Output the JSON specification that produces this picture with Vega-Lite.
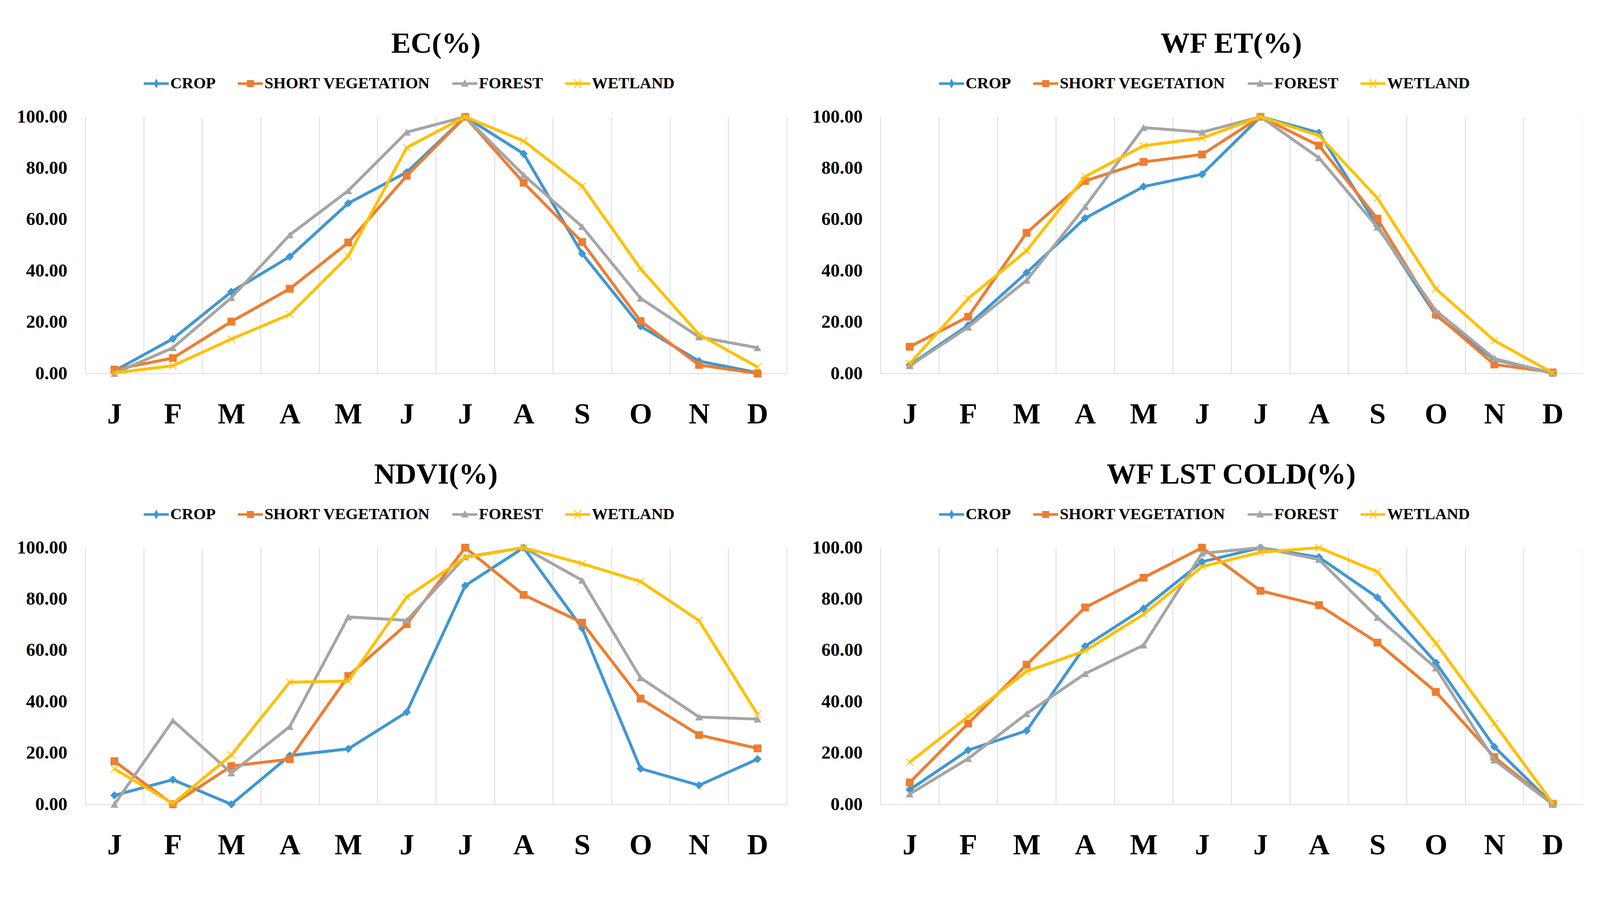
{
"$schema": "https://vega.github.io/schema/vega-lite/v6.json",
"padding": {"left": 42, "top": 75, "right": 0, "bottom": 0},
"background": "white",
"datasets": {
"ec": [
{"m":"Jan","s":"CROP","v":1},{"m":"Feb","s":"CROP","v":13.5},{"m":"Mar","s":"CROP","v":31.8},{"m":"Apr","s":"CROP","v":45.5},{"m":"May","s":"CROP","v":66.3},{"m":"Jun","s":"CROP","v":78.4},{"m":"Jul","s":"CROP","v":100},{"m":"Aug","s":"CROP","v":85.6},{"m":"Sep","s":"CROP","v":46.7},{"m":"Oct","s":"CROP","v":18.4},{"m":"Nov","s":"CROP","v":4.8},{"m":"Dec","s":"CROP","v":0.3},
{"m":"Jan","s":"SHORT VEGETATION","v":1.5},{"m":"Feb","s":"SHORT VEGETATION","v":6},{"m":"Mar","s":"SHORT VEGETATION","v":20.2},{"m":"Apr","s":"SHORT VEGETATION","v":33},{"m":"May","s":"SHORT VEGETATION","v":51},{"m":"Jun","s":"SHORT VEGETATION","v":77},{"m":"Jul","s":"SHORT VEGETATION","v":100},{"m":"Aug","s":"SHORT VEGETATION","v":74.3},{"m":"Sep","s":"SHORT VEGETATION","v":51.2},{"m":"Oct","s":"SHORT VEGETATION","v":20.4},{"m":"Nov","s":"SHORT VEGETATION","v":3.3},{"m":"Dec","s":"SHORT VEGETATION","v":0},
{"m":"Jan","s":"FOREST","v":0},{"m":"Feb","s":"FOREST","v":10},{"m":"Mar","s":"FOREST","v":29.5},{"m":"Apr","s":"FOREST","v":54},{"m":"May","s":"FOREST","v":71.2},{"m":"Jun","s":"FOREST","v":94},{"m":"Jul","s":"FOREST","v":100},{"m":"Aug","s":"FOREST","v":77.3},{"m":"Sep","s":"FOREST","v":57.2},{"m":"Oct","s":"FOREST","v":29.3},{"m":"Nov","s":"FOREST","v":14.2},{"m":"Dec","s":"FOREST","v":10},
{"m":"Jan","s":"WETLAND","v":0.2},{"m":"Feb","s":"WETLAND","v":3},{"m":"Mar","s":"WETLAND","v":13.4},{"m":"Apr","s":"WETLAND","v":23},{"m":"May","s":"WETLAND","v":45.7},{"m":"Jun","s":"WETLAND","v":88},{"m":"Jul","s":"WETLAND","v":100},{"m":"Aug","s":"WETLAND","v":90.6},{"m":"Sep","s":"WETLAND","v":73},{"m":"Oct","s":"WETLAND","v":40.8},{"m":"Nov","s":"WETLAND","v":15.2},{"m":"Dec","s":"WETLAND","v":2.5}
],
"et": [
{"m":"Jan","s":"CROP","v":3.3},{"m":"Feb","s":"CROP","v":18.8},{"m":"Mar","s":"CROP","v":39.3},{"m":"Apr","s":"CROP","v":60.5},{"m":"May","s":"CROP","v":72.8},{"m":"Jun","s":"CROP","v":77.6},{"m":"Jul","s":"CROP","v":100},{"m":"Aug","s":"CROP","v":93.8},{"m":"Sep","s":"CROP","v":57.5},{"m":"Oct","s":"CROP","v":22.6},{"m":"Nov","s":"CROP","v":5.4},{"m":"Dec","s":"CROP","v":0.2},
{"m":"Jan","s":"SHORT VEGETATION","v":10.4},{"m":"Feb","s":"SHORT VEGETATION","v":22.1},{"m":"Mar","s":"SHORT VEGETATION","v":54.8},{"m":"Apr","s":"SHORT VEGETATION","v":75},{"m":"May","s":"SHORT VEGETATION","v":82.4},{"m":"Jun","s":"SHORT VEGETATION","v":85.3},{"m":"Jul","s":"SHORT VEGETATION","v":100},{"m":"Aug","s":"SHORT VEGETATION","v":88.8},{"m":"Sep","s":"SHORT VEGETATION","v":60.3},{"m":"Oct","s":"SHORT VEGETATION","v":23},{"m":"Nov","s":"SHORT VEGETATION","v":3.5},{"m":"Dec","s":"SHORT VEGETATION","v":0.4},
{"m":"Jan","s":"FOREST","v":3},{"m":"Feb","s":"FOREST","v":18},{"m":"Mar","s":"FOREST","v":36.3},{"m":"Apr","s":"FOREST","v":65},{"m":"May","s":"FOREST","v":95.8},{"m":"Jun","s":"FOREST","v":94},{"m":"Jul","s":"FOREST","v":100},{"m":"Aug","s":"FOREST","v":84},{"m":"Sep","s":"FOREST","v":57},{"m":"Oct","s":"FOREST","v":24.5},{"m":"Nov","s":"FOREST","v":5.8},{"m":"Dec","s":"FOREST","v":0},
{"m":"Jan","s":"WETLAND","v":3.8},{"m":"Feb","s":"WETLAND","v":29.2},{"m":"Mar","s":"WETLAND","v":47.8},{"m":"Apr","s":"WETLAND","v":76.7},{"m":"May","s":"WETLAND","v":88.7},{"m":"Jun","s":"WETLAND","v":91.7},{"m":"Jul","s":"WETLAND","v":100},{"m":"Aug","s":"WETLAND","v":92.7},{"m":"Sep","s":"WETLAND","v":68.3},{"m":"Oct","s":"WETLAND","v":33},{"m":"Nov","s":"WETLAND","v":12.8},{"m":"Dec","s":"WETLAND","v":0.2}
],
"ndvi": [
{"m":"Jan","s":"CROP","v":3.5},{"m":"Feb","s":"CROP","v":9.6},{"m":"Mar","s":"CROP","v":0},{"m":"Apr","s":"CROP","v":19},{"m":"May","s":"CROP","v":21.6},{"m":"Jun","s":"CROP","v":35.9},{"m":"Jul","s":"CROP","v":85.2},{"m":"Aug","s":"CROP","v":100},{"m":"Sep","s":"CROP","v":68.7},{"m":"Oct","s":"CROP","v":13.9},{"m":"Nov","s":"CROP","v":7.4},{"m":"Dec","s":"CROP","v":17.6},
{"m":"Jan","s":"SHORT VEGETATION","v":16.8},{"m":"Feb","s":"SHORT VEGETATION","v":0},{"m":"Mar","s":"SHORT VEGETATION","v":14.9},{"m":"Apr","s":"SHORT VEGETATION","v":17.6},{"m":"May","s":"SHORT VEGETATION","v":50},{"m":"Jun","s":"SHORT VEGETATION","v":70.2},{"m":"Jul","s":"SHORT VEGETATION","v":100},{"m":"Aug","s":"SHORT VEGETATION","v":81.6},{"m":"Sep","s":"SHORT VEGETATION","v":70.8},{"m":"Oct","s":"SHORT VEGETATION","v":41.2},{"m":"Nov","s":"SHORT VEGETATION","v":27},{"m":"Dec","s":"SHORT VEGETATION","v":21.8},
{"m":"Jan","s":"FOREST","v":0},{"m":"Feb","s":"FOREST","v":32.6},{"m":"Mar","s":"FOREST","v":12.2},{"m":"Apr","s":"FOREST","v":30.3},{"m":"May","s":"FOREST","v":73},{"m":"Jun","s":"FOREST","v":71.7},{"m":"Jul","s":"FOREST","v":96.4},{"m":"Aug","s":"FOREST","v":100},{"m":"Sep","s":"FOREST","v":87.3},{"m":"Oct","s":"FOREST","v":49.3},{"m":"Nov","s":"FOREST","v":34},{"m":"Dec","s":"FOREST","v":33.2},
{"m":"Jan","s":"WETLAND","v":13.8},{"m":"Feb","s":"WETLAND","v":0.3},{"m":"Mar","s":"WETLAND","v":19.2},{"m":"Apr","s":"WETLAND","v":47.6},{"m":"May","s":"WETLAND","v":48},{"m":"Jun","s":"WETLAND","v":80.8},{"m":"Jul","s":"WETLAND","v":96.2},{"m":"Aug","s":"WETLAND","v":100},{"m":"Sep","s":"WETLAND","v":93.8},{"m":"Oct","s":"WETLAND","v":86.8},{"m":"Nov","s":"WETLAND","v":71.6},{"m":"Dec","s":"WETLAND","v":35}
],
"lst": [
{"m":"Jan","s":"CROP","v":5.7},{"m":"Feb","s":"CROP","v":21.1},{"m":"Mar","s":"CROP","v":28.7},{"m":"Apr","s":"CROP","v":61.6},{"m":"May","s":"CROP","v":76.3},{"m":"Jun","s":"CROP","v":94.5},{"m":"Jul","s":"CROP","v":100},{"m":"Aug","s":"CROP","v":96.3},{"m":"Sep","s":"CROP","v":80.6},{"m":"Oct","s":"CROP","v":55.2},{"m":"Nov","s":"CROP","v":22.4},{"m":"Dec","s":"CROP","v":0},
{"m":"Jan","s":"SHORT VEGETATION","v":8.5},{"m":"Feb","s":"SHORT VEGETATION","v":31.5},{"m":"Mar","s":"SHORT VEGETATION","v":54.4},{"m":"Apr","s":"SHORT VEGETATION","v":76.7},{"m":"May","s":"SHORT VEGETATION","v":88.3},{"m":"Jun","s":"SHORT VEGETATION","v":100},{"m":"Jul","s":"SHORT VEGETATION","v":83.2},{"m":"Aug","s":"SHORT VEGETATION","v":77.6},{"m":"Sep","s":"SHORT VEGETATION","v":63},{"m":"Oct","s":"SHORT VEGETATION","v":43.8},{"m":"Nov","s":"SHORT VEGETATION","v":18.4},{"m":"Dec","s":"SHORT VEGETATION","v":0.2},
{"m":"Jan","s":"FOREST","v":4},{"m":"Feb","s":"FOREST","v":17.8},{"m":"Mar","s":"FOREST","v":35.3},{"m":"Apr","s":"FOREST","v":50.9},{"m":"May","s":"FOREST","v":62},{"m":"Jun","s":"FOREST","v":97.8},{"m":"Jul","s":"FOREST","v":100},{"m":"Aug","s":"FOREST","v":95.4},{"m":"Sep","s":"FOREST","v":72.8},{"m":"Oct","s":"FOREST","v":53.1},{"m":"Nov","s":"FOREST","v":17.2},{"m":"Dec","s":"FOREST","v":0},
{"m":"Jan","s":"WETLAND","v":16.4},{"m":"Feb","s":"WETLAND","v":34.2},{"m":"Mar","s":"WETLAND","v":51.8},{"m":"Apr","s":"WETLAND","v":59.8},{"m":"May","s":"WETLAND","v":74},{"m":"Jun","s":"WETLAND","v":92.6},{"m":"Jul","s":"WETLAND","v":98.2},{"m":"Aug","s":"WETLAND","v":100},{"m":"Sep","s":"WETLAND","v":90.6},{"m":"Oct","s":"WETLAND","v":62.8},{"m":"Nov","s":"WETLAND","v":31.5},{"m":"Dec","s":"WETLAND","v":0.4}
]
},
"columns": 2,
"spacing": {"row": 80, "column": 64},
"resolve": {"legend": {"color": "independent", "shape": "independent"}, "scale": {"color": "independent", "shape": "independent"}},
"concat": [
{"data": {"name": "ec"}, "width": 1796, "height": 657, "title": "EC(%)",
 "encoding": {
  "x": {"field": "m", "type": "ordinal", "sort": ["Jan","Feb","Mar","Apr","May","Jun","Jul","Aug","Sep","Oct","Nov","Dec"], "bandPosition": 0.5, "scale": {"type": "band", "paddingInner": 0, "paddingOuter": 0}, "axis": {"title": null, "labelExpr": "substring(datum.label,0,1)"}},
  "y": {"field": "v", "type": "quantitative", "scale": {"domain": [0, 100], "nice": false}, "axis": {"title": null, "values": [0,20,40,60,80,100], "format": ".2f"}}
 },
 "layer": [
  {"transform": [{"filter": "false"}], "mark": {"type": "point", "filled": true, "opacity": 1},
   "encoding": {
    "color": {"field": "s", "type": "nominal", "scale": {"domain": ["CROP","SHORT VEGETATION","FOREST","WETLAND"], "range": ["#3F97D3","#ED7D31","#A5A5A5","#FFC000"]}, "legend": {"title": null}},
    "shape": {"field": "s", "type": "nominal", "scale": {"domain": ["CROP","SHORT VEGETATION","FOREST","WETLAND"], "range": ["M-1,-0.1H1V0.1H-1Z M0,-0.4L0.2,0L0,0.4L-0.2,0Z","M-1,-0.1H1V0.1H-1Z M-0.28,-0.28H0.28V0.28H-0.28Z","M-1,-0.1H1V0.1H-1Z M0,-0.34L0.3,0.24H-0.3Z","M-1,-0.1H1V0.1H-1Z M-0.3,-0.34L-0.25,-0.38L0,-0.06L0.25,-0.38L0.3,-0.34L0.05,0L0.3,0.34L0.25,0.38L0,0.06L-0.25,0.38L-0.3,0.34L-0.05,0Z"]}, "legend": {"title": null}}
   }},
  {"transform": [{"filter": "datum.s === 'CROP'"}], "mark": {"type": "line", "color": "#3F97D3", "strokeWidth": 7.5, "clip": false, "point": {"filled": true, "shape": "diamond", "size": 450, "opacity": 1, "color": "#3F97D3"}}},
  {"transform": [{"filter": "datum.s === 'SHORT VEGETATION'"}], "mark": {"type": "line", "color": "#ED7D31", "strokeWidth": 7.5, "clip": false, "point": {"filled": true, "shape": "square", "size": 400, "opacity": 1, "color": "#ED7D31"}}},
  {"transform": [{"filter": "datum.s === 'FOREST'"}], "mark": {"type": "line", "color": "#A5A5A5", "strokeWidth": 7.5, "clip": false, "point": {"filled": true, "shape": "triangle-up", "size": 400, "opacity": 1, "color": "#A5A5A5"}}},
  {"transform": [{"filter": "datum.s === 'WETLAND'"}], "mark": {"type": "line", "color": "#FFC000", "strokeWidth": 7.5, "clip": false, "point": {"filled": true, "shape": "M-1,-0.85L-0.85,-1L0,-0.15L0.85,-1L1,-0.85L0.15,0L1,0.85L0.85,1L0,0.15L-0.85,1L-1,0.85L-0.15,0Z", "size": 400, "opacity": 1, "color": "#FFC000"}}}
 ]
},
{"data": {"name": "et"}, "width": 1796, "height": 657, "title": "WF ET(%)",
 "encoding": {
  "x": {"field": "m", "type": "ordinal", "sort": ["Jan","Feb","Mar","Apr","May","Jun","Jul","Aug","Sep","Oct","Nov","Dec"], "bandPosition": 0.5, "scale": {"type": "band", "paddingInner": 0, "paddingOuter": 0}, "axis": {"title": null, "labelExpr": "substring(datum.label,0,1)"}},
  "y": {"field": "v", "type": "quantitative", "scale": {"domain": [0, 100], "nice": false}, "axis": {"title": null, "values": [0,20,40,60,80,100], "format": ".2f"}}
 },
 "layer": [
  {"transform": [{"filter": "false"}], "mark": {"type": "point", "filled": true, "opacity": 1},
   "encoding": {
    "color": {"field": "s", "type": "nominal", "scale": {"domain": ["CROP","SHORT VEGETATION","FOREST","WETLAND"], "range": ["#3F97D3","#ED7D31","#A5A5A5","#FFC000"]}, "legend": {"title": null}},
    "shape": {"field": "s", "type": "nominal", "scale": {"domain": ["CROP","SHORT VEGETATION","FOREST","WETLAND"], "range": ["M-1,-0.1H1V0.1H-1Z M0,-0.4L0.2,0L0,0.4L-0.2,0Z","M-1,-0.1H1V0.1H-1Z M-0.28,-0.28H0.28V0.28H-0.28Z","M-1,-0.1H1V0.1H-1Z M0,-0.34L0.3,0.24H-0.3Z","M-1,-0.1H1V0.1H-1Z M-0.3,-0.34L-0.25,-0.38L0,-0.06L0.25,-0.38L0.3,-0.34L0.05,0L0.3,0.34L0.25,0.38L0,0.06L-0.25,0.38L-0.3,0.34L-0.05,0Z"]}, "legend": {"title": null}}
   }},
  {"transform": [{"filter": "datum.s === 'CROP'"}], "mark": {"type": "line", "color": "#3F97D3", "strokeWidth": 7.5, "clip": false, "point": {"filled": true, "shape": "diamond", "size": 450, "opacity": 1, "color": "#3F97D3"}}},
  {"transform": [{"filter": "datum.s === 'SHORT VEGETATION'"}], "mark": {"type": "line", "color": "#ED7D31", "strokeWidth": 7.5, "clip": false, "point": {"filled": true, "shape": "square", "size": 400, "opacity": 1, "color": "#ED7D31"}}},
  {"transform": [{"filter": "datum.s === 'FOREST'"}], "mark": {"type": "line", "color": "#A5A5A5", "strokeWidth": 7.5, "clip": false, "point": {"filled": true, "shape": "triangle-up", "size": 400, "opacity": 1, "color": "#A5A5A5"}}},
  {"transform": [{"filter": "datum.s === 'WETLAND'"}], "mark": {"type": "line", "color": "#FFC000", "strokeWidth": 7.5, "clip": false, "point": {"filled": true, "shape": "M-1,-0.85L-0.85,-1L0,-0.15L0.85,-1L1,-0.85L0.15,0L1,0.85L0.85,1L0,0.15L-0.85,1L-1,0.85L-0.15,0Z", "size": 400, "opacity": 1, "color": "#FFC000"}}}
 ]
},
{"data": {"name": "ndvi"}, "width": 1796, "height": 657, "title": "NDVI(%)",
 "encoding": {
  "x": {"field": "m", "type": "ordinal", "sort": ["Jan","Feb","Mar","Apr","May","Jun","Jul","Aug","Sep","Oct","Nov","Dec"], "bandPosition": 0.5, "scale": {"type": "band", "paddingInner": 0, "paddingOuter": 0}, "axis": {"title": null, "labelExpr": "substring(datum.label,0,1)"}},
  "y": {"field": "v", "type": "quantitative", "scale": {"domain": [0, 100], "nice": false}, "axis": {"title": null, "values": [0,20,40,60,80,100], "format": ".2f"}}
 },
 "layer": [
  {"transform": [{"filter": "false"}], "mark": {"type": "point", "filled": true, "opacity": 1},
   "encoding": {
    "color": {"field": "s", "type": "nominal", "scale": {"domain": ["CROP","SHORT VEGETATION","FOREST","WETLAND"], "range": ["#3F97D3","#ED7D31","#A5A5A5","#FFC000"]}, "legend": {"title": null}},
    "shape": {"field": "s", "type": "nominal", "scale": {"domain": ["CROP","SHORT VEGETATION","FOREST","WETLAND"], "range": ["M-1,-0.1H1V0.1H-1Z M0,-0.4L0.2,0L0,0.4L-0.2,0Z","M-1,-0.1H1V0.1H-1Z M-0.28,-0.28H0.28V0.28H-0.28Z","M-1,-0.1H1V0.1H-1Z M0,-0.34L0.3,0.24H-0.3Z","M-1,-0.1H1V0.1H-1Z M-0.3,-0.34L-0.25,-0.38L0,-0.06L0.25,-0.38L0.3,-0.34L0.05,0L0.3,0.34L0.25,0.38L0,0.06L-0.25,0.38L-0.3,0.34L-0.05,0Z"]}, "legend": {"title": null}}
   }},
  {"transform": [{"filter": "datum.s === 'CROP'"}], "mark": {"type": "line", "color": "#3F97D3", "strokeWidth": 7.5, "clip": false, "point": {"filled": true, "shape": "diamond", "size": 450, "opacity": 1, "color": "#3F97D3"}}},
  {"transform": [{"filter": "datum.s === 'SHORT VEGETATION'"}], "mark": {"type": "line", "color": "#ED7D31", "strokeWidth": 7.5, "clip": false, "point": {"filled": true, "shape": "square", "size": 400, "opacity": 1, "color": "#ED7D31"}}},
  {"transform": [{"filter": "datum.s === 'FOREST'"}], "mark": {"type": "line", "color": "#A5A5A5", "strokeWidth": 7.5, "clip": false, "point": {"filled": true, "shape": "triangle-up", "size": 400, "opacity": 1, "color": "#A5A5A5"}}},
  {"transform": [{"filter": "datum.s === 'WETLAND'"}], "mark": {"type": "line", "color": "#FFC000", "strokeWidth": 7.5, "clip": false, "point": {"filled": true, "shape": "M-1,-0.85L-0.85,-1L0,-0.15L0.85,-1L1,-0.85L0.15,0L1,0.85L0.85,1L0,0.15L-0.85,1L-1,0.85L-0.15,0Z", "size": 400, "opacity": 1, "color": "#FFC000"}}}
 ]
},
{"data": {"name": "lst"}, "width": 1796, "height": 657, "title": "WF LST COLD(%)",
 "encoding": {
  "x": {"field": "m", "type": "ordinal", "sort": ["Jan","Feb","Mar","Apr","May","Jun","Jul","Aug","Sep","Oct","Nov","Dec"], "bandPosition": 0.5, "scale": {"type": "band", "paddingInner": 0, "paddingOuter": 0}, "axis": {"title": null, "labelExpr": "substring(datum.label,0,1)"}},
  "y": {"field": "v", "type": "quantitative", "scale": {"domain": [0, 100], "nice": false}, "axis": {"title": null, "values": [0,20,40,60,80,100], "format": ".2f"}}
 },
 "layer": [
  {"transform": [{"filter": "false"}], "mark": {"type": "point", "filled": true, "opacity": 1},
   "encoding": {
    "color": {"field": "s", "type": "nominal", "scale": {"domain": ["CROP","SHORT VEGETATION","FOREST","WETLAND"], "range": ["#3F97D3","#ED7D31","#A5A5A5","#FFC000"]}, "legend": {"title": null}},
    "shape": {"field": "s", "type": "nominal", "scale": {"domain": ["CROP","SHORT VEGETATION","FOREST","WETLAND"], "range": ["M-1,-0.1H1V0.1H-1Z M0,-0.4L0.2,0L0,0.4L-0.2,0Z","M-1,-0.1H1V0.1H-1Z M-0.28,-0.28H0.28V0.28H-0.28Z","M-1,-0.1H1V0.1H-1Z M0,-0.34L0.3,0.24H-0.3Z","M-1,-0.1H1V0.1H-1Z M-0.3,-0.34L-0.25,-0.38L0,-0.06L0.25,-0.38L0.3,-0.34L0.05,0L0.3,0.34L0.25,0.38L0,0.06L-0.25,0.38L-0.3,0.34L-0.05,0Z"]}, "legend": {"title": null}}
   }},
  {"transform": [{"filter": "datum.s === 'CROP'"}], "mark": {"type": "line", "color": "#3F97D3", "strokeWidth": 7.5, "clip": false, "point": {"filled": true, "shape": "diamond", "size": 450, "opacity": 1, "color": "#3F97D3"}}},
  {"transform": [{"filter": "datum.s === 'SHORT VEGETATION'"}], "mark": {"type": "line", "color": "#ED7D31", "strokeWidth": 7.5, "clip": false, "point": {"filled": true, "shape": "square", "size": 400, "opacity": 1, "color": "#ED7D31"}}},
  {"transform": [{"filter": "datum.s === 'FOREST'"}], "mark": {"type": "line", "color": "#A5A5A5", "strokeWidth": 7.5, "clip": false, "point": {"filled": true, "shape": "triangle-up", "size": 400, "opacity": 1, "color": "#A5A5A5"}}},
  {"transform": [{"filter": "datum.s === 'WETLAND'"}], "mark": {"type": "line", "color": "#FFC000", "strokeWidth": 7.5, "clip": false, "point": {"filled": true, "shape": "M-1,-0.85L-0.85,-1L0,-0.15L0.85,-1L1,-0.85L0.15,0L1,0.85L0.85,1L0,0.15L-0.85,1L-1,0.85L-0.15,0Z", "size": 400, "opacity": 1, "color": "#FFC000"}}}
 ]
}
],
"config": {
 "font": "Liberation Serif",
 "view": {"stroke": null},
 "axis": {"labelFont": "Liberation Serif", "labelFontWeight": "bold", "labelColor": "#000000"},
 "axisX": {"labelFontSize": 75, "labelAngle": 0, "tickBand": "extent", "grid": true, "gridColor": "#d9d9d9", "gridWidth": 2, "domainColor": "#d9d9d9", "domainWidth": 2, "ticks": false, "tickSize": 0, "labelPadding": 104, "labelBaseline": "middle"},
 "axisY": {"labelFontSize": 47, "grid": false, "domain": false, "ticks": false, "tickSize": 0, "labelPadding": 46, "minExtent": 173, "maxExtent": 173},
 "title": {"fontSize": 75, "font": "Liberation Serif", "fontWeight": "bold", "anchor": "middle", "color": "#000000", "offset": 30},
 "legend": {"orient": "none", "legendX": 149, "legendY": -118, "direction": "horizontal", "labelFontSize": 41, "labelFont": "Liberation Serif", "labelFontWeight": "bold", "labelColor": "#000000", "labelLimit": 2000, "symbolSize": 4096, "labelOffset": 3, "columnPadding": 55}
}
}
